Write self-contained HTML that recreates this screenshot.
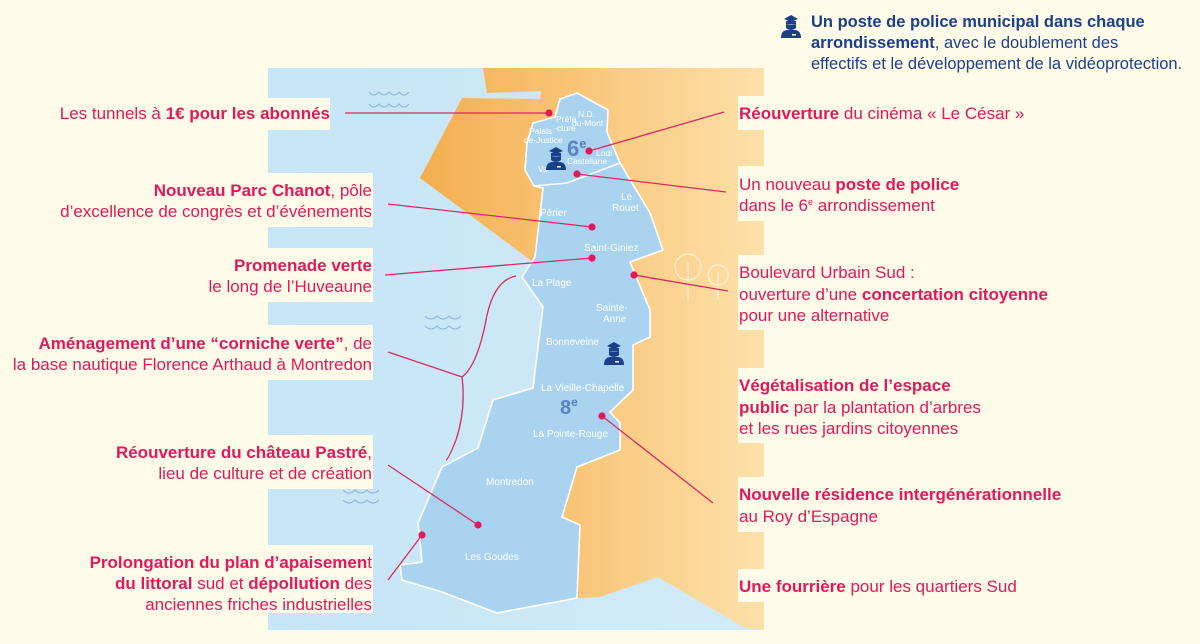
<!DOCTYPE html>
<html><head><meta charset="utf-8"><style>
html,body{margin:0;padding:0;background:#fefbe9;}
svg{display:block}
text{font-family:"Liberation Sans",sans-serif;}
.p{fill:#e2185b;font-size:17px}
.b{font-weight:bold}
.w{fill:#fff;font-size:9px}
.n{fill:#1c3f8c;font-size:16.5px}
</style></head><body>
<svg width="1200" height="644" viewBox="0 0 1200 644" xmlns="http://www.w3.org/2000/svg">
<defs>
<linearGradient id="og" x1="0" x2="1" y1="0" y2="0">
<stop offset="0" stop-color="#f5ae4e"/><stop offset="1" stop-color="#fde1aa"/></linearGradient>
<linearGradient id="sg" x1="0" x2="1"><stop offset="0" stop-color="#c6e5f7"/><stop offset="1" stop-color="#d2ebf7"/></linearGradient>
<g id="cop" fill="#1c3f8c"><path d="M-7,-9 L0,-13 L7,-9 L0,-6 Z"/><rect x="-5" y="-7" width="10" height="3"/><path d="M-5,-4 Q0,-3 5,-4 L5,0 Q0,4 -5,0Z"/><path d="M-10,10 Q-10,2 -3,2 L3,2 Q10,2 10,10Z"/><rect x="1" y="6" width="4" height="1.5" fill="#fff"/></g>
</defs>
<rect x="268" y="68" width="496" height="562" fill="url(#sg)"/>
<path d="M483,68 L764,68 L764,630 L745,628 L658,577 L600,597 L577,598 L562,517 L577,467 L620,450 L533,262 L420,178 L462,98 L540,99 L541,91 L487,93 Z" fill="url(#og)"/>
<path d="M577,93 L608,110 L607,132 L620,163 L650,213 L663,250 L630,262 L650,310 L650,337 L633,345 L633,390 L610,412 L620,423 L620,450 L577,467 L562,517 L580,525 L577,598 L497,613 L442,592 L402,580 L400,565 L422,562 L418,523 L442,467 L478,448 L493,400 L533,388 L543,307 L522,277 L535,257 L543,188 L534,186 L525,170 L527,143 L533,123 L555,117 L560,99 Z" fill="#a9d3ef" stroke="#fff" stroke-width="1.6"/>
<path d="M534,186 L567,183 L575,180 L620,163" fill="none" stroke="#fff" stroke-width="1.6"/>
<g fill="none" stroke="#8fb4d6" stroke-width="1">
<path d="M369,92 q5,6 10,0 q5,6 10,0 q5,6 10,0 q5,6 10,0"/><path d="M369,104 q5,6 10,0 q5,6 10,0 q5,6 10,0 q5,6 10,0"/>
<path d="M425,316 q6,6 12,0 q6,6 12,0 q6,6 12,0"/><path d="M425,326 q6,6 12,0 q6,6 12,0 q6,6 12,0"/>
<path d="M343,490 q6,6 12,0 q6,6 12,0 q6,6 12,0"/><path d="M343,500 q6,6 12,0 q6,6 12,0 q6,6 12,0"/>
</g>
<g fill="none" stroke="#fff3dc" stroke-width="1.2" opacity="0.9">
<circle cx="688" cy="267" r="13"/><line x1="688" y1="262" x2="688" y2="300"/>
<circle cx="718" cy="275" r="10"/><line x1="718" y1="272" x2="718" y2="300"/>
</g>
<g fill="#fefbe9">
<rect x="268" y="98" width="62" height="32"/>
<rect x="268" y="173" width="105" height="54"/>
<rect x="268" y="248" width="105" height="54"/>
<rect x="268" y="325" width="105" height="55"/>
<rect x="268" y="435" width="105" height="54"/>
<rect x="268" y="545" width="105" height="68"/>
<rect x="738" y="96" width="30" height="34"/>
<rect x="738" y="166" width="30" height="55"/>
<rect x="738" y="255" width="30" height="75"/>
<rect x="738" y="368" width="30" height="75"/>
<rect x="738" y="477" width="30" height="55"/>
<rect x="738" y="569" width="30" height="33"/>
</g>
<g stroke="#d92a63" stroke-width="1.3" fill="none">
<line x1="345" y1="113" x2="549" y2="113"/>
<line x1="589" y1="151" x2="724" y2="112"/>
<line x1="577" y1="174" x2="726" y2="192"/>
<line x1="388" y1="204" x2="592" y2="227"/>
<line x1="385" y1="275" x2="592" y2="258"/>
<line x1="634" y1="275" x2="728" y2="291"/>
<line x1="388" y1="352" x2="462" y2="377"/>
<path d="M516,276 Q495,280 487,315 Q478,365 462,377 Q466,410 456,440 Q448,460 446,460"/>
<line x1="388" y1="465" x2="478" y2="525"/>
<line x1="388" y1="580" x2="422" y2="535"/>
<line x1="602" y1="416" x2="713" y2="503"/>
</g>
<g fill="#e2185b">
<circle cx="549" cy="113" r="3.6"/><circle cx="589" cy="151" r="3.6"/><circle cx="577" cy="174" r="3.6"/>
<circle cx="592" cy="227" r="3.6"/><circle cx="592" cy="258" r="3.6"/><circle cx="634" cy="275" r="3.6"/>
<circle cx="478" cy="525" r="3.6"/><circle cx="422" cy="535" r="3.6"/><circle cx="602" cy="416" r="3.6"/>
</g>
<g class="w">
<text x="578" y="117" font-size="8.5">N.D.</text><text x="572" y="126" font-size="8.5">du-Mont</text>
<text x="556" y="122" font-size="8.5">Préfe</text><text x="554" y="131" font-size="8.5">-cture</text>
<text x="529" y="134" font-size="8.5">Palais</text><text x="524" y="143" font-size="8.5">de-Justice</text>
<text x="596" y="156" font-size="8.5">Lodi</text><text x="567" y="164" font-size="8.5">Castellane</text><text x="538" y="172" font-size="8.5">Va</text>
<text x="621" y="200" font-size="10">Le</text><text x="612" y="211" font-size="10">Rouet</text>
<text x="540" y="216" font-size="10">Périer</text>
<text x="584" y="251" font-size="10">Saint-Giniez</text>
<text x="532" y="286" font-size="10">La Plage</text>
<text x="596" y="311" font-size="10">Sainte-</text><text x="603" y="322" font-size="10">Anne</text>
<text x="546" y="345" font-size="10">Bonneveine</text>
<text x="541" y="391" font-size="10">La Vieille-Chapelle</text>
<text x="533" y="437" font-size="10">La Pointe-Rouge</text>
<text x="486" y="485" font-size="10">Montredon</text>
<text x="465" y="560" font-size="10">Les Goudes</text>
</g>
<text x="567" y="156" fill="#5a82c4" font-size="22" font-weight="bold">6<tspan font-size="13" dy="-8">e</tspan></text>
<text x="560" y="414" fill="#5a82c4" font-size="20" font-weight="bold">8<tspan font-size="12" dy="-8">e</tspan></text>
<use href="#cop" x="556" y="160"/>
<use href="#cop" x="614" y="355"/>
<use href="#cop" x="791" y="28"/>
<text class="n" x="811" y="27"><tspan class="b">Un poste de police municipal dans chaque</tspan></text>
<text class="n" x="811" y="48"><tspan class="b">arrondissement</tspan>, avec le doublement des</text>
<text class="n" x="811" y="69">effectifs et le développement de la vidéoprotection.</text>
<g class="p" text-anchor="end">
<text x="330" y="119">Les tunnels à <tspan class="b">1€ pour les abonnés</tspan></text>
<text x="372" y="196"><tspan class="b">Nouveau Parc Chanot</tspan>, pôle</text>
<text x="372" y="217">d’excellence de congrès et d’événements</text>
<text x="372" y="271"><tspan class="b">Promenade verte</tspan></text>
<text x="372" y="292">le long de l’Huveaune</text>
<text x="372" y="349"><tspan class="b">Aménagement d’une “corniche verte”</tspan>, de</text>
<text x="372" y="370">la base nautique Florence Arthaud à Montredon</text>
<text x="372" y="458"><tspan class="b">Réouverture du château Pastré</tspan>,</text>
<text x="372" y="479">lieu de culture et de création</text>
<text x="372" y="568"><tspan class="b">Prolongation du plan d’apaisemen</tspan>t</text>
<text x="372" y="589"><tspan class="b">du littoral</tspan> sud et <tspan class="b">dépollution</tspan> des</text>
<text x="372" y="610">anciennes friches industrielles</text>
</g>
<g class="p">
<text x="739" y="119"><tspan class="b">Réouverture</tspan> du cinéma « Le César »</text>
<text x="739" y="190">Un nouveau <tspan class="b">poste de police</tspan></text>
<text x="739" y="211">dans le 6<tspan font-size="9" dy="-6">e</tspan><tspan dy="6"> arrondissement</tspan></text>
<text x="739" y="278">Boulevard Urbain Sud :</text>
<text x="739" y="300">ouverture d’une <tspan class="b">concertation citoyenne</tspan></text>
<text x="739" y="321">pour une alternative</text>
<text x="739" y="391"><tspan class="b">Végétalisation de l’espace</tspan></text>
<text x="739" y="413"><tspan class="b">public</tspan> par la plantation d’arbres</text>
<text x="739" y="434">et les rues jardins citoyennes</text>
<text x="739" y="500"><tspan class="b">Nouvelle résidence intergénérationnelle</tspan></text>
<text x="739" y="522">au Roy d’Espagne</text>
<text x="739" y="592"><tspan class="b">Une fourrière</tspan> pour les quartiers Sud</text>
</g>
</svg>
</body></html>
